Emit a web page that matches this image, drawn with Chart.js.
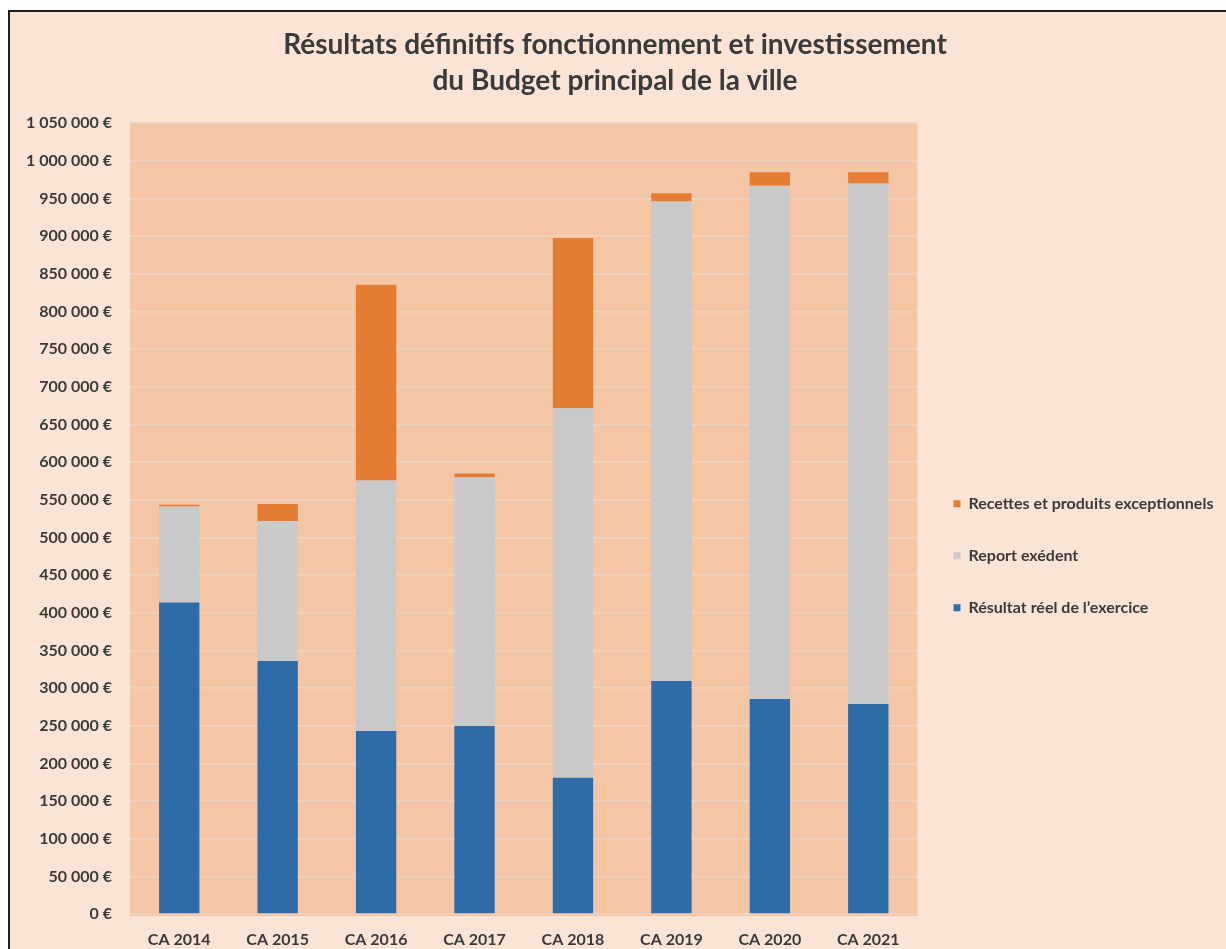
<!DOCTYPE html>
<html>
<head>
<meta charset="utf-8">
<title>Résultats définitifs</title>
<script src="https://cdn.jsdelivr.net/npm/chart.js@4.4.1/dist/chart.umd.min.js"></script>
<style>
  body { margin: 0; background: #ffffff; }
  #wrap {
    position: absolute; left: 8px; top: 10px;
    width: 1216px; height: 937px;
    border-left: 2px solid #1e1e1e; border-top: 2px solid #1e1e1e;
    background: #fbe4d5; overflow: hidden;
  }
</style>
</head>
<body>
<div id="wrap"><canvas id="myChart" width="1216" height="937"></canvas></div>
<script>
const categories = ['CA 2014', 'CA 2015', 'CA 2016', 'CA 2017', 'CA 2018', 'CA 2019', 'CA 2020', 'CA 2021'];
const resultatReel = [413500, 336000, 243000, 249500, 181000, 309500, 285500, 279000];
const reportExcedent = [127500, 186000, 332500, 330500, 490500, 636500, 681500, 691000];
const recettesExceptionnelles = [2500, 22500, 260000, 5000, 226000, 11000, 18000, 15000];

function euro(v) {
  return String(v).replace(/\B(?=(\d{3})+(?!\d))/g, ' ') + ' €';
}

// fond de la zone de tracé
const plotBackground = {
  id: 'plotBackground',
  beforeDraw(chart) {
    const { ctx, chartArea: a } = chart;
    ctx.save();
    ctx.fillStyle = '#f5c6a5';
    ctx.fillRect(a.left, a.top, a.right - a.left, a.bottom - a.top + 2);
    ctx.restore();
  }
};

const ctx = document.getElementById('myChart').getContext('2d');

const chart = new Chart(ctx, {
  type: 'bar',
  data: {
    labels: categories,
    datasets: [
      {
        label: 'Résultat réel de l\u2019exercice',
        data: resultatReel,
        backgroundColor: '#2e6ca9'
      },
      {
        label: 'Report exédent',
        data: reportExcedent,
        backgroundColor: '#c9c9c9'
      },
      {
        label: 'Recettes et produits exceptionnels',
        data: recettesExceptionnelles,
        backgroundColor: '#e47c34'
      }
    ]
  },
  plugins: [plotBackground],
  options: {
    responsive: false,
    animation: false,
    layout: { padding: { right: 6 } },
    datasets: {
      bar: { barPercentage: 0.41, categoryPercentage: 1, borderWidth: 0 }
    },
    plugins: {
      title: {
        display: true,
        text: ['Résultats définitifs fonctionnement et investissement', 'du Budget principal de la ville'],
        color: '#3a3a3a',
        font: { family: 'Lato', size: 28, weight: 'bold', lineHeight: 1.29 },
        padding: { top: 15, bottom: 24 }
      },
      legend: {
        position: 'right',
        fullSize: false,
        reverse: true,
        // titre vide : sert seulement à descendre la légende
        title: { display: true, text: '', padding: 30 },
        labels: {
          boxWidth: 7,
          boxHeight: 7,
          padding: 36,
          color: '#3a3a3a',
          font: { family: 'Lato', size: 16, weight: 'bold' }
        }
      },
      tooltip: {
        callbacks: {
          label: c => `${c.dataset.label}: ${euro(c.raw)}`
        }
      }
    },
    scales: {
      x: {
        stacked: true,
        grid: { display: false, drawTicks: false },
        border: { display: false },
        ticks: {
          color: '#3a3a3a',
          padding: 16,
          font: { family: 'Lato', size: 16, weight: 'bold' }
        },
        afterFit: s => { s.height = 35; }
      },
      y: {
        stacked: true,
        min: 0,
        max: 1050000,
        grid: { color: '#f1d2bd', lineWidth: 1.5, drawTicks: false },
        border: { display: false },
        ticks: {
          stepSize: 50000,
          color: '#3a3a3a',
          padding: 18,
          font: { family: 'Lato', size: 16, weight: 'bold' },
          callback: v => euro(v)
        },
        afterFit: s => { s.width = 120; }
      }
    }
  }
});
</script>
</body>
</html>
